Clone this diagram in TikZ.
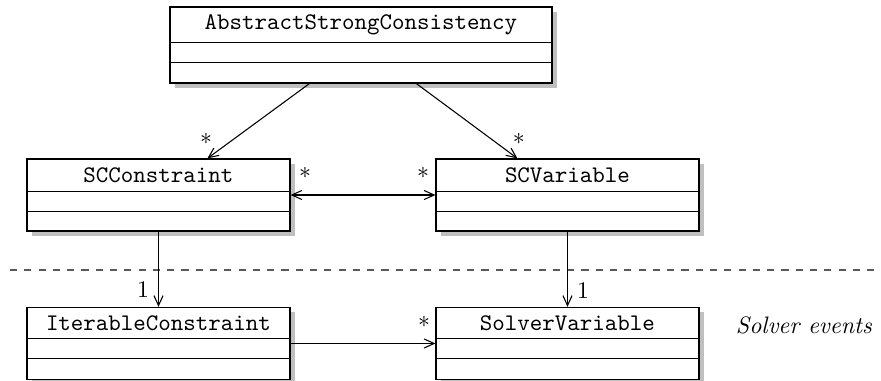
\documentclass[tikz,border=0pt]{standalone}
\usetikzlibrary{arrows.meta,shadows,calc}
\begin{document}
\begin{tikzpicture}[x=0.42pt,y=-0.42pt,
  classbox/.style={draw, line width=0.5pt, fill=white, inner sep=0pt,
    minimum width=110.46pt, minimum height=30.24pt,
    drop shadow={shadow xshift=1.9pt, shadow yshift=-1.9pt, fill=black!25, opacity=1}},
  bigbox/.style={classbox, minimum width=160.44pt, minimum height=31.92pt},
  classname/.style={font=\ttfamily, inner sep=0pt},
  divider/.style={line width=0.5pt},
  assoc/.style={line width=0.45pt, -{Straight Barb[length=4.2pt,width=3.8pt]}},
  bothways/.style={line width=0.45pt, {Straight Barb[length=4.2pt,width=3.8pt]}-{Straight Barb[length=4.2pt,width=3.8pt]}},
  mult/.style={inner sep=0pt, font=\normalsize}]
\useasboundingbox (0,0) rectangle (881,381);

% layer separator
\draw[dashed, line width=0.5pt, black!65] (10,270) -- (881,270);

% classes
\node[bigbox] (asc) at (361,45) {};
\node[classname] at ($(asc.north)+(0,18)$) {AbstractStrongConsistency};
\draw[divider] ($(asc.north west)+(0,36)$) -- ($(asc.north east)+(0,36)$);
\draw[divider] ($(asc.north west)+(0,56)$) -- ($(asc.north east)+(0,56)$);

\node[classbox] (scc) at (158.5,195) {};
\node[classname] at ($(scc.north)+(0,16.5)$) {SCConstraint};
\draw[divider] ($(scc.north west)+(0,33)$) -- ($(scc.north east)+(0,33)$);
\draw[divider] ($(scc.north west)+(0,53)$) -- ($(scc.north east)+(0,53)$);

\node[classbox] (scv) at (567.5,195) {};
\node[classname] at ($(scv.north)+(0,16.5)$) {SCVariable};
\draw[divider] ($(scv.north west)+(0,33)$) -- ($(scv.north east)+(0,33)$);
\draw[divider] ($(scv.north west)+(0,53)$) -- ($(scv.north east)+(0,53)$);

\node[classbox] (ic) at (158.5,343.5) {};
\node[classname] at ($(ic.north)+(0,16)$) {IterableConstraint};
\draw[divider] ($(ic.north west)+(0,32)$) -- ($(ic.north east)+(0,32)$);
\draw[divider] ($(ic.north west)+(0,52)$) -- ($(ic.north east)+(0,52)$);

\node[classbox] (sv) at (567.5,343.5) {};
\node[classname] at ($(sv.north)+(0,16)$) {SolverVariable};
\draw[divider] ($(sv.north west)+(0,32)$) -- ($(sv.north east)+(0,32)$);
\draw[divider] ($(sv.north west)+(0,52)$) -- ($(sv.north east)+(0,52)$);

% associations
\draw[assoc] ($(asc.south west)+(140,0)$) -- ($(scc.north west)+(181,0)$)
  node[mult, pos=1, xshift=-0.6pt, yshift=8pt] {$*$};
\draw[assoc] ($(asc.south west)+(247,0)$) -- ($(scv.north west)+(82,0)$)
  node[mult, pos=1, xshift=0.6pt, yshift=8pt] {$*$};
\draw[bothways] (scc.east) -- (scv.west);
\node[mult] at (305,173) {$*$};
\node[mult] at (423,173) {$*$};
\draw[assoc] (scc.south) -- (ic.north);
\node[mult] at (143,290) {1};
\draw[assoc] (scv.south) -- (sv.north);
\node[mult] at (583,291) {1};
\draw[assoc] (ic.east) -- (sv.west);
\node[mult] at (424,322) {$*$};

\node[inner sep=0pt] at (804,325) {\textit{Solver events}};
\end{tikzpicture}
\end{document}
